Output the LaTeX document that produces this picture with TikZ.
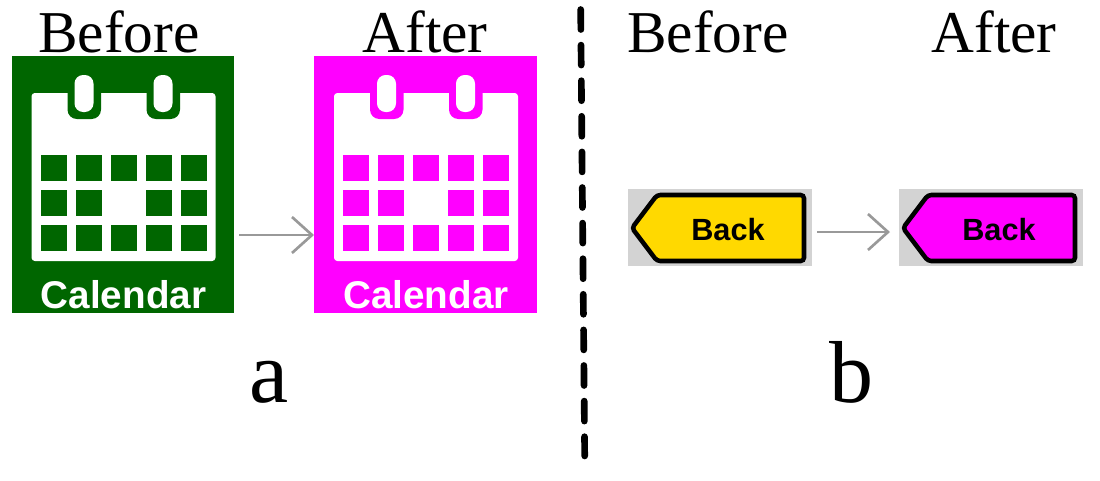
\documentclass[tikz,border=0pt]{standalone}
\usepackage{fontspec}
\setmainfont{Liberation Serif}
\newfontfamily\iconfont{Liberation Sans}
\usetikzlibrary{arrows.meta,positioning,calc}
\definecolor{caldark}{HTML}{006600}
\definecolor{calpink}{HTML}{FF00FF}
\definecolor{tagyellow}{HTML}{FFD900}
\definecolor{taggray}{HTML}{D3D3D3}
\definecolor{arrowgray}{HTML}{999999}
\tikzset{
    title/.style={
        anchor=base,
        inner sep=0pt,
        font=\fontsize{44.5}{44.5}\selectfont
    },
    panel/.style={
        anchor=base,
        inner sep=0pt,
        font=\fontsize{66}{66}\selectfont
    },
    calbox/.style={
        anchor=north west,
        inner sep=0pt,
        outer sep=0pt,
        minimum width=167pt,
        minimum height=192.75pt
    },
    tagbox/.style={
        anchor=north west,
        inner sep=0pt,
        outer sep=0pt,
        fill=taggray,
        minimum width=138pt,
        minimum height=57.75pt
    },
    arrow/.style={
        -{Straight Barb[length=15pt,width=27pt,line width=2pt]},
        line width=2pt,
        arrowgray
    },
    divider/.style={
        line width=5pt,
        line cap=round,
        dash pattern=on 15pt off 11.7pt
    },
    calicon/.pic={
        \node[calbox, fill=#1] (-box) at (0,0) {};
        \fill[white, rounded corners=2.5pt] (20,37) rectangle (204,205);
        \fill[#1, rounded corners=7pt] (56,20) rectangle (89.5,63);
        \fill[#1, rounded corners=7pt] (135,20) rectangle (168.5,63);
        \fill[white, rounded corners=6.5pt] (63,19) rectangle (82,56);
        \fill[white, rounded corners=6.5pt] (142,19) rectangle (161,56);
        \foreach \x in {29,64,99,134,169} {
            \foreach \y in {99,134,169} {
                \fill[#1] (\x,\y) rectangle ++(26,26);
            }
        }
        \fill[white] (95,132) rectangle (129,162);
        \node[font=\iconfont\bfseries\fontsize{29}{29}\selectfont, text=white, anchor=base] (-text) at (112,252) {Calendar};
    },
    backtag/.pic={
        \node[tagbox] (-box) at (0,0) {};
        \draw[fill=#1, line width=3.4pt, rounded corners=2.5pt] (4,39) -- (29,6) -- (176,6) -- (176,72) -- (29,72) -- cycle;
        \node[font=\iconfont\bfseries\fontsize{23}{23}\selectfont, anchor=base] (-text) at (100,51) {Back};
    }
}
\begin{document}
\begin{tikzpicture}[x=0.75pt,y=-0.75pt]
\useasboundingbox (0,0) rectangle (1100,480);

\node[title] (beforea) at (119,52) {Before};
\node[title] (aftera) at (425,52) {After};
\node[title] (beforeb) at (708,52) {Before};
\node[title] (afterb) at (994,52) {After};

\pic (calbefore) at (11.5,56) {calicon=caldark};
\pic (calafter) at (314,56) {calicon=calpink};
\pic (tagbefore) at (628,189) {backtag=tagyellow};
\pic (tagafter) at (899,189) {backtag=calpink};

\coordinate (calfrom) at ($(calbefore-box.north east)+(5,179)$);
\coordinate (tagfrom) at ($(tagbefore-box.north east)+(5,43)$);
\draw[arrow] (calfrom) -- (calfrom -| calafter-box.west);
\draw[arrow] (tagfrom) -- ($(tagfrom -| tagafter-box.west)+(-9,0)$);

\node[panel] (labela) at (269,402) {a};
\node[panel] (labelb) at (851,402) {b};

\coordinate (divtop) at (580.7,9.5);
\coordinate (divbot) at (584.7,456);
\draw[divider] (divtop) -- (divbot);

\end{tikzpicture}
\end{document}
